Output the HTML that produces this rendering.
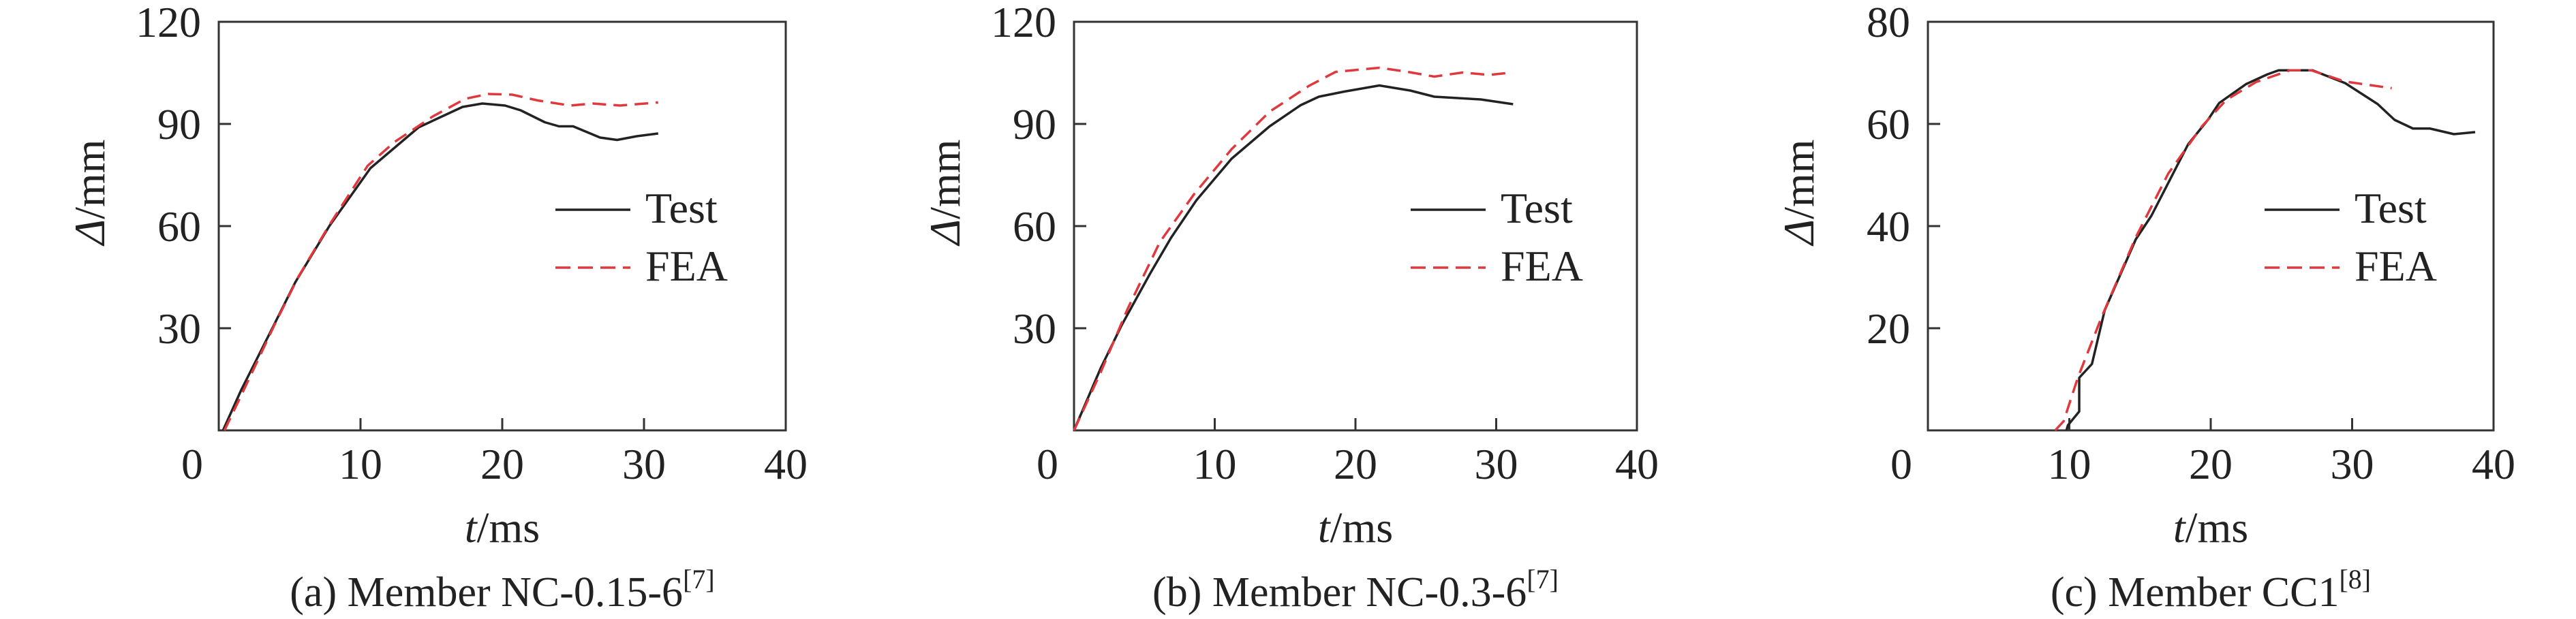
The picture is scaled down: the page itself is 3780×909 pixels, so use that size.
<!DOCTYPE html>
<html><head><meta charset="utf-8"><style>
html,body{margin:0;padding:0;background:#fff;}
svg{display:block;font-family:"Liberation Serif",serif;}
</style></head><body>
<svg id="fig" width="3780" height="909" viewBox="0 0 3780 909" xmlns="http://www.w3.org/2000/svg"></svg>
<script>
// Panel (a)
const aTestT=[0.3,1.6,3.9,5.4,7.8,10.7,14.1,17.2,18.6,20.2,21.3,23,24,25,26.9,28.1,29.5,31];
const aTestD=[0,12,31,43.5,60,77,89,95,96,95.4,94,90.5,89.3,89.3,86,85.3,86.4,87.2];
const aFeaT=[0.4,1.6,3.9,5.6,7.8,10.5,12.4,15.1,17.4,19,20.7,22.5,24.8,26.4,28.3,31];
const aFeaD=[0,10.4,30.7,45,60.3,77.7,84.7,92.2,97.4,98.8,98.6,96.9,95.4,96,95.4,96.3];
// Panel (b)
const bTestT=[0,1.9,3.4,5.4,6.9,8.7,11.2,13.9,16.1,17.4,19.2,21.7,23.9,25.6,28.9,31.2];
const bTestD=[0,18.3,31,46,56.6,67.6,79.8,89.3,95.5,98,99.5,101.3,99.8,98,97.2,95.8];
const bFeaT=[0,1.9,3.8,6.1,8.5,11.2,13.9,16.7,18.6,21.7,23.7,25.6,27.6,29.5,31.1];
const bFeaD=[0,17.1,35.6,55.3,69.2,82.6,93.6,101.2,105.3,106.5,105.3,103.9,105.1,104.4,105.1];
// Panel (c)
const cTestT=[9.8,9.9,10.7,10.7,11.6,12.5,14.7,15.8,18.4,19.8,20.6,22.5,24,24.8,27.2,29.5,31.8,33,34.3,35.5,37.2,38.7];
const cTestD=[0,1,3.7,10.3,13,23.5,37.4,42,56,60.8,64.1,67.8,69.7,70.5,70.5,68,63.9,60.8,59.1,59.1,58,58.4];
const cFeaT=[9,9.6,10.6,12.3,14.7,17,19.4,21.1,23.2,25.6,27.1,29.5,32.8];
const cFeaD=[0,1.8,10.3,22.3,37.8,50.3,59.6,64.7,68.2,70.5,70.5,68.3,67];
const xTicks=[10,20,30];
const xLabels=["0","10","20","30","40"];
const yTicksAB=[30,60,90];
const yLabelsAB=["30","60","90","120"];
const yTicksC=[20,40,60];
const yLabelsC=["20","40","60","80"];

const NS="http://www.w3.org/2000/svg";
const svg=document.getElementById('fig');
function mk(tag,attrs,parent){const e=document.createElementNS(NS,tag);for(const k in attrs)e.setAttribute(k,attrs[k]);(parent||svg).appendChild(e);return e;}

function panel(id,left,width,yMax,yTicks,yLabels,tT,tD,fT,fD,caption,sup){
  const top=32,bottom=632;
  const g=mk('g',{});
  
  
  const X=v=>left+v/40*width;
  const Y=v=>bottom-v/yMax*(bottom-top);
  const box=mk('rect',{x:left,y:top,width:width,height:bottom-top,fill:'none',stroke:'#333',"stroke-width":3},g);
  
  
  xTicks.forEach(v=>{const t=mk('line',{x1:X(v),x2:X(v),y1:bottom,y2:bottom-18,stroke:'#333',"stroke-width":3},g);
    
    });
  yTicks.forEach(v=>{const t=mk('line',{x1:left,x2:left+18,y1:Y(v),y2:Y(v),stroke:'#333',"stroke-width":3},g);
    
    });
  xLabels.forEach((s,i)=>{const v=i*10;const x=i===0?left-39:X(v);
    const t=mk('text',{x:x,y:703,"font-size":64,"text-anchor":"middle",fill:'#222'},g);t.textContent=s;
    
    });
  yLabels.forEach((s,i)=>{const v=(i+1)*yMax/4;
    const t=mk('text',{x:left-26,y:Y(v)+22,"font-size":64,"text-anchor":"end",fill:'#222'},g);t.textContent=s;
    
    });
  const yt=mk('text',{x:0,y:0,"font-size":64,"text-anchor":"middle",fill:'#222',transform:`translate(${left-168},282) rotate(-90)`},g);
  yt.innerHTML='<tspan font-style="italic">Δ</tspan>/mm';
  
  
  const xt=mk('text',{x:left+width/2,y:796,"font-size":64,"text-anchor":"middle",fill:'#222'},g);
  xt.innerHTML='<tspan font-style="italic">t</tspan>/ms';
  
  
  const cp=mk('text',{x:left+width/2,y:890,"font-size":62,"text-anchor":"middle",fill:'#222'},g);
  cp.innerHTML=caption+'<tspan font-size="40" dy="-26">['+sup+']</tspan>';
  
  
  const tp=mk('polyline',{points:tT.map((t,i)=>X(t)+','+Y(tD[i])).join(' '),fill:'none',stroke:'#222',"stroke-width":3.5,"stroke-linejoin":"round"},g);
  
  
  const fp=mk('polyline',{points:fT.map((t,i)=>X(t)+','+Y(fD[i])).join(' '),fill:'none',stroke:'#e0383d',"stroke-width":3.5,"stroke-dasharray":"20 11"},g);
  
  
  const l1=mk('line',{x1:left+494,x2:left+604,y1:308,y2:308,stroke:'#222',"stroke-width":3.5},g);
  
  
  const t1=mk('text',{x:left+626,y:327,"font-size":64,fill:'#222'},g);t1.textContent='Test';
  
  
  const l2=mk('line',{x1:left+494,x2:left+604,y1:393,y2:393,stroke:'#e0383d',"stroke-width":3.5,"stroke-dasharray":"22 11"},g);
  
  
  const t2=mk('text',{x:left+626,y:412,"font-size":64,fill:'#222'},g);t2.textContent='FEA';
  
  
}
panel('a',321,832,120,yTicksAB,yLabelsAB,aTestT,aTestD,aFeaT,aFeaD,'(a) Member NC-0.15-6','7');
panel('b',1576,826,120,yTicksAB,yLabelsAB,bTestT,bTestD,bFeaT,bFeaD,'(b) Member NC-0.3-6','7');
panel('c',2829,830,80,yTicksC,yLabelsC,cTestT,cTestD,cFeaT,cFeaD,'(c) Member CC1','8');
</script>
</body></html>
